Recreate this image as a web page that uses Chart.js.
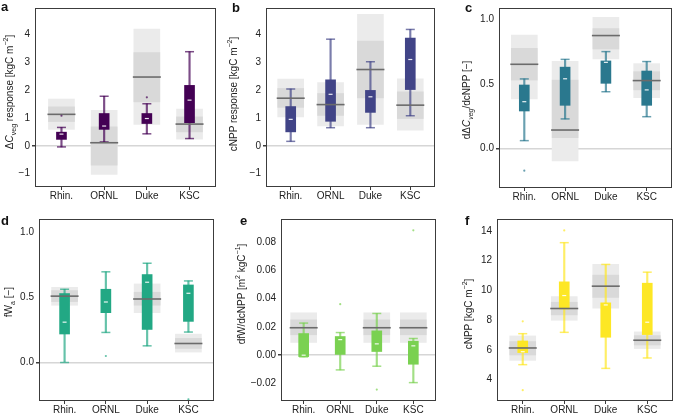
<!DOCTYPE html>
<html><head><meta charset="utf-8">
<script src="https://cdn.jsdelivr.net/npm/chart.js@4"></script>
<style>
body{margin:0;background:#fff;width:676px;height:413px;position:relative;overflow:hidden;font-family:"Liberation Sans",Arial,sans-serif;}
canvas{position:absolute;}
.yt{position:absolute;white-space:nowrap;font-size:10px;color:#222;transform:translate(-50%,-50%) rotate(-90deg);}
.yt sub,.yt sup{font-size:7px;line-height:0}
.lt{position:absolute;font-weight:bold;font-size:13px;color:#111;line-height:13px}
</style></head><body>
<script>
const sites = ['Rhin.', 'ORNL', 'Duke', 'KSC'];

// panel a: ΔCveg response
const aOuterLo = [0.59, -1.03, 0.77, 0.24];
const aOuterHi = [1.68, 1.27, 4.19, 1.32];
const aInnerLo = [0.87, -0.70, 1.58, 0.50];
const aInnerHi = [1.40, 0.68, 3.35, 1.04];
const aObs = [1.13, 0.11, 2.47, 0.78];
const aMin = [-0.04, 0.14, 0.43, 0.26];
const aQ1 = [0.23, 0.59, 0.80, 0.83];
const aMed = [0.42, 0.71, 0.98, 1.64];
const aQ3 = [0.49, 1.16, 1.16, 2.17];
const aMax = [0.66, 1.78, 1.51, 3.38];
const aOut = [[1.08], [], [1.74], []];
const aTicks = [-1, 0, 1, 2, 3, 4];

// panel b: cNPP response
const bOuterLo = [1.04, 0.71, 0.77, 0.56];
const bOuterHi = [2.40, 2.27, 4.72, 2.41];
const bInnerLo = [1.38, 1.09, 1.72, 0.98];
const bInnerHi = [2.06, 1.88, 3.76, 1.94];
const bObs = [1.71, 1.48, 2.74, 1.46];
const bMin = [0.16, 0.65, 0.65, 1.08];
const bQ1 = [0.50, 0.88, 1.20, 2.02];
const bMed = [0.95, 1.85, 1.76, 3.10];
const bQ3 = [1.41, 2.37, 1.99, 3.87];
const bMax = [2.04, 3.83, 3.02, 4.18];
const bOut = [[], [], [], []];
const bTicks = [-1, 0, 1, 2, 3, 4];

// panel c: dΔCveg/dcNPP
const cOuterLo = [0.385, -0.095, 0.693, 0.394];
const cOuterHi = [0.878, 0.675, 1.015, 0.657];
const cInnerLo = [0.53, 0.085, 0.77, 0.454];
const cInnerHi = [0.775, 0.53, 0.928, 0.595];
const cObs = [0.652, 0.144, 0.874, 0.526];
const cMin = [0.062, 0.23, 0.44, 0.247];
const cQ1 = [0.291, 0.335, 0.505, 0.335];
const cMed = [0.363, 0.54, 0.667, 0.454];
const cQ3 = [0.492, 0.63, 0.678, 0.60];
const cMax = [0.539, 0.69, 0.75, 0.673];
const cOut = [[-0.17], [], [], []];
const cTicks = [0, 0.5, 1.0];

// panel d: fWa
const dOuterLo = [0.44, null, 0.383, 0.08];
const dOuterHi = [0.578, null, 0.604, 0.218];
const dInnerLo = [0.468, null, 0.44, 0.108];
const dInnerHi = [0.553, null, 0.54, 0.185];
const dObs = [0.51, null, 0.488, 0.146];
const dMin = [0.0, 0.231, 0.128, 0.234];
const dQ1 = [0.219, 0.383, 0.254, 0.316];
const dMed = [0.31, 0.465, 0.617, 0.532];
const dQ3 = [0.53, 0.563, 0.676, 0.596];
const dMax = [0.563, 0.697, 0.763, 0.627];
const dOut = [[], [0.05], [], [-0.283]];
const dTicks = [0, 0.5, 1.0];

// panel e: dfW/dcNPP
const eOuterLo = [0.009, null, 0.009, 0.009];
const eOuterHi = [0.030, null, 0.030, 0.030];
const eInnerLo = [0.0144, null, 0.0144, 0.0144];
const eInnerHi = [0.025, null, 0.025, 0.025];
const eObs = [0.0194, null, 0.0194, 0.0194];
const eMin = [-0.0012, -0.0104, -0.0078, -0.0194];
const eQ1 = [-0.001, 0.0, 0.0026, -0.0064];
const eMed = [0.0, 0.011, 0.008, 0.0066];
const eQ3 = [0.0153, 0.0132, 0.0172, 0.0099];
const eMax = [0.0227, 0.016, 0.0295, 0.0118];
const eOut = [[], [0.0361], [-0.0243], [0.0883]];
const eTicks = [-0.02, 0, 0.02, 0.04, 0.06, 0.08];

// panel f: cNPP
const fOuterLo = [5.30, 7.99, 8.80, 6.09];
const fOuterHi = [6.94, 9.58, 11.74, 7.21];
const fInnerLo = [5.66, 8.35, 9.52, 6.33];
const fInnerHi = [6.56, 9.20, 11.02, 6.96];
const fObs = [6.13, 8.78, 10.28, 6.65];
const fMin = [5.01, 7.18, 4.76, 5.46];
const fQ1 = [5.82, 8.75, 6.85, 7.03];
const fMed = [5.88, 9.65, 9.02, 7.86];
const fQ3 = [6.60, 10.57, 9.16, 10.48];
const fMax = [7.09, 13.2, 11.74, 11.22];
const fOut = [[7.92, 3.30], [14.02], [], []];
const fTicks = [4, 6, 8, 10, 12, 14];

const panels = [
  {L:'a', col:[68,1,84], rect:[35,8,181,179], yr:[-1.48,4.95], ticks:aTicks, dec:0,
   oLo:aOuterLo,oHi:aOuterHi,iLo:aInnerLo,iHi:aInnerHi,obs:aObs,mn:aMin,q1:aQ1,md:aMed,q3:aQ3,mx:aMax,out:aOut,
   title:'Δ<i>C</i><sub>veg</sub> response [kgC m<sup>−2</sup>]', tx:9, ty:92, lx:1, ly:0},
  {L:'b', col:[65,68,135], rect:[266,8,169,179], yr:[-1.48,4.95], ticks:bTicks, dec:0,
   oLo:bOuterLo,oHi:bOuterHi,iLo:bInnerLo,iHi:bInnerHi,obs:bObs,mn:bMin,q1:bQ1,md:bMed,q3:bQ3,mx:bMax,out:bOut,
   title:'cNPP response [kgC m<sup>−2</sup>]', tx:233, ty:94, lx:232, ly:1},
  {L:'c', col:[42,120,142], rect:[499,8,173,180], yr:[-0.304,1.087], ticks:cTicks, dec:1,
   oLo:cOuterLo,oHi:cOuterHi,iLo:cInnerLo,iHi:cInnerHi,obs:cObs,mn:cMin,q1:cQ1,md:cMed,q3:cQ3,mx:cMax,out:cOut,
   title:'dΔ<i>C<sub>veg</sub></i>/dcNPP [−]', tx:466, ty:100, lx:465, ly:1},
  {L:'d', col:[34,168,132], rect:[39,219,175,182], yr:[-0.296,1.103], ticks:dTicks, dec:1,
   oLo:dOuterLo,oHi:dOuterHi,iLo:dInnerLo,iHi:dInnerHi,obs:dObs,mn:dMin,q1:dQ1,md:dMed,q3:dQ3,mx:dMax,out:dOut,
   title:'fW<sub>a</sub> [−]', tx:8, ty:302, lx:1, ly:214},
  {L:'e', col:[122,209,81], rect:[281,219,155,182], yr:[-0.0324,0.0963], ticks:eTicks, dec:2,
   oLo:eOuterLo,oHi:eOuterHi,iLo:eInnerLo,iHi:eInnerHi,obs:eObs,mn:eMin,q1:eQ1,md:eMed,q3:eQ3,mx:eMax,out:eOut,
   title:'dfW/dcNPP [m<sup>2</sup> kgC<sup>−1</sup>]', tx:241, ty:294, lx:240, ly:214},
  {L:'f', col:[253,231,37], rect:[497,219,176,182], yr:[2.57,14.79], ticks:fTicks, dec:0,
   oLo:fOuterLo,oHi:fOuterHi,iLo:fInnerLo,iHi:fInnerHi,obs:fObs,mn:fMin,q1:fQ1,md:fMed,q3:fQ3,mx:fMax,out:fOut,
   title:'cNPP [kgC m<sup>−2</sup>]', tx:468, ty:314, lx:465, ly:214}
];

const YW = 34, XH = 18, PT = 6, PR = 6;
const FONT = {family:'"Liberation Sans", Arial, sans-serif', size:10};

const framePlugin = {
  id:'frame',
  afterDraw(chart){
    const {ctx, chartArea:a} = chart;
    ctx.save();
    ctx.strokeStyle = '#3c3c3c';
    ctx.lineWidth = 1;
    ctx.strokeRect(a.left + 0.5, a.top + 0.5, a.right - a.left - 1, a.bottom - a.top - 1);
    ctx.restore();
  }
};

function rangeData(lo, hi){
  const r = [];
  sites.forEach((s,i) => { if (lo[i] != null) r.push({x:i+1, y:[lo[i], hi[i]]}); });
  return r;
}
function pointData(v){
  const r = [];
  sites.forEach((s,i) => { if (v[i] != null) r.push({x:i+1, y:v[i]}); });
  return r;
}

panels.forEach(p => {
  const [pl, pt, pw, ph] = p.rect;
  const cv = document.createElement('canvas');
  cv.width = pw + YW + PR; cv.height = ph + PT + XH;
  cv.style.left = (pl - YW) + 'px'; cv.style.top = (pt - PT) + 'px';
  cv.style.width = cv.width + 'px'; cv.style.height = cv.height + 'px';
  document.body.appendChild(cv);

  const solid = `rgb(${p.col.join(',')})`;
  const soft = `rgba(${p.col.join(',')},0.7)`;
  const caps = pointData(p.mn).concat(pointData(p.mx));
  const outs = [];
  p.out.forEach((arr,i) => arr.forEach(v => outs.push({x:i+1, y:v})));

  new Chart(cv, {
    type:'bar',
    data:{datasets:[
      {type:'bar', data:rangeData(p.oLo,p.oHi), backgroundColor:'#ebebeb', barThickness:26, grouped:false, borderWidth:0, order:10},
      {type:'bar', data:rangeData(p.iLo,p.iHi), backgroundColor:'#d9d9d9', barThickness:26, grouped:false, borderWidth:0, order:9},
      {type:'bar', data:rangeData(p.mn,p.mx), backgroundColor:soft, barThickness:1.5, grouped:false, borderWidth:0, order:6},
      {type:'bar', data:rangeData(p.q1,p.q3), backgroundColor:solid, barThickness:10, grouped:false, borderWidth:0, order:5},
      {type:'scatter', data:caps, pointStyle:'line', pointRadius:4.5, borderColor:soft, borderWidth:1.5, order:4},
      {type:'scatter', data:pointData(p.md), pointStyle:'line', pointRadius:2, borderColor:'rgba(255,255,255,0.9)', borderWidth:1.2, order:3},
      {type:'scatter', data:pointData(p.obs), pointStyle:'line', pointRadius:14, borderColor:'#6b6b6b', borderWidth:1.6, order:2},
      {type:'scatter', data:outs, pointStyle:'circle', pointRadius:1.1, backgroundColor:soft, borderWidth:0, order:1}
    ]},
    options:{
      responsive:false, animation:false, devicePixelRatio:1, events:[],
      layout:{autoPadding:false, padding:{left:0, top:PT, right:PR, bottom:0}},
      plugins:{legend:{display:false}, tooltip:{enabled:false}},
      scales:{
        x:{type:'linear', min:0.38, max:4.62, offset:false,
           afterBuildTicks: ax => { ax.ticks = sites.map((s,i) => ({value:i+1})); },
           afterFit: ax => { ax.height = XH; ax.paddingLeft = 0; ax.paddingRight = 0; },
           ticks:{autoSkip:false, maxRotation:0, padding:0, color:'#222', font:FONT,
                  callback: v => sites[Math.round(v)-1]},
           grid:{display:true, drawOnChartArea:false, drawTicks:true, tickLength:3, tickColor:'#3c3c3c', offset:false},
           border:{display:false}},
        y:{type:'linear', min:p.yr[0], max:p.yr[1], beginAtZero:false,
           afterBuildTicks: ax => { ax.ticks = p.ticks.map(v => ({value:v})); },
           afterFit: ax => { ax.width = YW; ax.paddingTop = 0; ax.paddingBottom = 0; },
           ticks:{padding:2, color:'#222', font:FONT,
                  callback: v => { const s = Number(v).toFixed(p.dec); return Math.abs(v) < 1e-9 ? (0).toFixed(p.dec) : s.replace('-', '−'); }},
           grid:{display:true, drawOnChartArea:true, drawTicks:true, tickLength:3, tickColor:'#3c3c3c',
                 color: c => (c.tick && Math.abs(c.tick.value) < 1e-9) ? '#d6d6d6' : 'rgba(0,0,0,0)',
                 lineWidth: c => (c.tick && Math.abs(c.tick.value) < 1e-9) ? 1.5 : 0},
           border:{display:false}}
      }
    },
    plugins:[framePlugin]
  });

  const t = document.createElement('div');
  t.className = 'yt'; t.innerHTML = p.title;
  t.style.left = p.tx + 'px'; t.style.top = p.ty + 'px';
  document.body.appendChild(t);
  const l = document.createElement('div');
  l.className = 'lt'; l.textContent = p.L;
  l.style.left = p.lx + 'px'; l.style.top = p.ly + 'px';
  document.body.appendChild(l);
});
</script>
</body></html>
